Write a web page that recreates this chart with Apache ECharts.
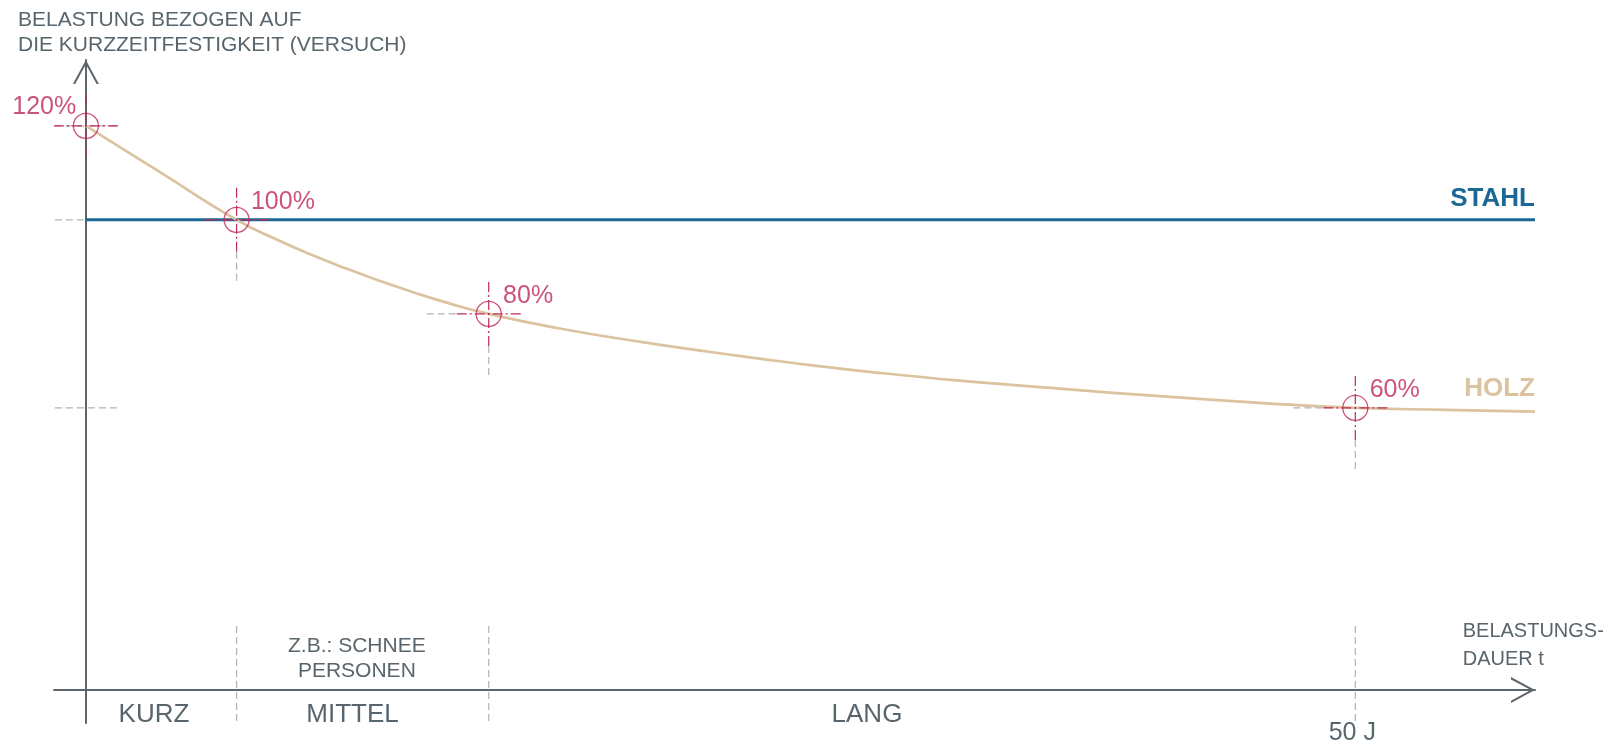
<!DOCTYPE html>
<html lang="de">
<head>
<meta charset="utf-8">
<title>Belastungsdauer – Holz und Stahl</title>
<script src="https://cdn.jsdelivr.net/npm/echarts@6/dist/echarts.min.js"></script>
<style>
  html, body { margin: 0; padding: 0; background: #ffffff; }
  #chart { width: 1613px; height: 742px; }
</style>
</head>
<body>
<div id="chart"></div>
<script>
// Relative Belastungsdauer (0 = Achsenursprung, 100 = Pfeilspitze)
const holzZeit = [0, 5.2, 10.4, 13.4, 15.7, 18.0, 20.3, 22.6, 24.9, 27.8, 32.7, 38.4, 43.1, 46.5, 50.0, 53.4, 60.3, 67.2, 74.1, 81.0, 87.6, 93.8, 100];
// Belastung bezogen auf die Kurzzeitfestigkeit in %
const holzLast = [120, 110, 100, 95.5, 92.4, 89.6, 87.0, 84.6, 82.4, 80, 76.9, 74.0, 71.9, 70.5, 69.1, 67.9, 65.8, 64.1, 62.5, 61.1, 60, 59.6, 59.2];
const stahlZeit = [0, 100];
const stahlLast = [100, 100];

// markierte Punkte der Holzkurve
const markenZeit = [0, 10.4, 27.8, 87.6];
const markenLast = [120, 100, 80, 60];

// Hilfsstriche an der Lastachse und Bereichsgrenzen an der Zeitachse
const achsenMarken = [120, 100, 60];
const bereichsGrenzen = [10.4, 27.8, 87.6];
const bereiche = ['KURZ', 'MITTEL', 'LANG'];
const bereichsMitte = [4.7, 18.4, 53.9];
const beispiel = { zeit: 18.7, text: 'Z.B.: SCHNEE\nPERSONEN' };
const zeitMarke = { zeit: 87.6, text: '50 J' };

const achsenTitel = 'BELASTUNG BEZOGEN AUF\nDIE KURZZEITFESTIGKEIT (VERSUCH)';
const zeitTitel = 'BELASTUNGS-\nDAUER t';

const FONT = '"Liberation Sans", Arial, Helvetica, sans-serif';
const GRAU_TEXT = '#59656d';
const ACHSE = '#5b666e';
const BLAU = '#1c6894';
const HOLZ = '#dcc3a0';
const PINK = '#bf2856';
const STRICH = '#b3b3b3';

// offene Pfeilspitze (Winkel) für beide Achsen
const pfeil = 'path://M13,0 L26,24 L23.7,24 L13,4.2 L2.3,24 L0,24 Z';

const chart = echarts.init(document.getElementById('chart'), null, { renderer: 'canvas' });

function achse(min, max) {
  return {
    type: 'value', min: min, max: max,
    axisLine: {
      show: true, onZero: true,
      lineStyle: { color: ACHSE, width: 2 },
      symbol: ['none', pfeil], symbolSize: [26, 24], symbolOffset: [0, -12]
    },
    axisTick: { show: false },
    axisLabel: { show: false },
    splitLine: { show: false }
  };
}

const pinkStrich = { stroke: PINK, lineWidth: 1.2, lineDash: [10, 3, 2, 3], fill: null };
const grauStrich = { stroke: STRICH, lineWidth: 1.2, lineDash: [7, 4], fill: null };

chart.setOption({
  animation: false,
  backgroundColor: '#ffffff',
  grid: { left: 54, right: 78, top: 60, bottom: 19, containLabel: false, outerBoundsMode: 'none' },
  xAxis: achse(-2.2, 100),
  yAxis: achse(-7, 134),
  series: [
    {
      // Hilfsstriche an der Lastachse
      type: 'custom', z: 1, silent: true,
      data: achsenMarken.map(v => [0, v]),
      renderItem: (params, api) => {
        const p = api.coord([api.value(0), api.value(1)]);
        return { type: 'line', shape: { x1: p[0] - 31, y1: p[1], x2: p[0] + 33, y2: p[1] }, style: grauStrich };
      }
    },
    {
      // Bereichsgrenzen an der Zeitachse
      type: 'custom', z: 1, silent: true,
      data: bereichsGrenzen.map(t => [t, 0]),
      renderItem: (params, api) => {
        const p = api.coord([api.value(0), api.value(1)]);
        return { type: 'line', shape: { x1: p[0], y1: p[1] - 64, x2: p[0], y2: p[1] + 33 }, style: grauStrich };
      }
    },
    {
      name: 'STAHL', type: 'line', z: 2, silent: true,
      data: stahlZeit.map((t, i) => [t, stahlLast[i]]),
      showSymbol: false,
      lineStyle: { color: BLAU, width: 3 }
    },
    {
      name: 'HOLZ', type: 'line', z: 3, silent: true,
      data: holzZeit.map((t, i) => [t, holzLast[i]]),
      showSymbol: false, smooth: 0.5,
      lineStyle: { color: HOLZ, width: 2.7 }
    },
    {
      // Fadenkreuze an den markierten Punkten
      type: 'custom', z: 4, silent: true,
      data: markenZeit.map((t, i) => [t, markenLast[i]]),
      renderItem: (params, api) => {
        const p = api.coord([api.value(0), api.value(1)]);
        const cx = p[0], cy = p[1];
        const i = params.dataIndex;
        const teile = [
          { type: 'line', shape: { x1: cx, y1: cy - 32, x2: cx, y2: cy + 32 }, style: pinkStrich },
          { type: 'line', shape: { x1: cx - 32, y1: cy, x2: cx + 32, y2: cy }, style: pinkStrich }
        ];
        if (i > 0) teile.push({ type: 'line', shape: { x1: cx, y1: cy + 32, x2: cx, y2: cy + 62 }, style: grauStrich });
        if (i > 1) teile.push({ type: 'line', shape: { x1: cx - 62, y1: cy, x2: cx - 32, y2: cy }, style: grauStrich });
        return { type: 'group', children: teile };
      }
    },
    {
      // Kreise mit Prozentangabe
      type: 'scatter', z: 5, silent: true,
      symbol: 'circle', symbolSize: 25,
      itemStyle: { color: 'rgba(0,0,0,0)', borderColor: PINK, borderWidth: 1.3 },
      data: markenZeit.map((t, i) => ({
        value: [t, markenLast[i]],
        label: i === 0
          ? { position: [3.5, -5.5], align: 'right' }
          : { position: [27.5, -4.5], align: 'left' }
      })),
      label: {
        show: true, verticalAlign: 'middle',
        formatter: p => p.value[1] + '%',
        color: PINK, fontSize: 25, fontFamily: FONT
      }
    }
  ]
});

// Beschriftungen, an den Achsenwerten ausgerichtet
const px = (t, v) => chart.convertToPixel({ gridIndex: 0 }, [t, v]);
const texte = [];

texte.push({ type: 'text', silent: true, style: {
  x: 18, y: 7.5, text: achsenTitel, fill: GRAU_TEXT, font: '21px ' + FONT,
  lineHeight: 25, align: 'left', verticalAlign: 'top' } });

texte.push({ type: 'text', silent: true, style: {
  x: 1462.7, y: 617, text: zeitTitel, fill: GRAU_TEXT, font: '20px ' + FONT,
  lineHeight: 28, align: 'left', verticalAlign: 'top' } });

bereiche.forEach((name, i) => {
  const p = px(bereichsMitte[i], 0);
  texte.push({ type: 'text', silent: true, style: {
    x: p[0], y: p[1] + 25, text: name, fill: GRAU_TEXT, font: '26px ' + FONT,
    align: 'center', verticalAlign: 'middle' } });
});

{
  const p = px(beispiel.zeit, 0);
  texte.push({ type: 'text', silent: true, style: {
    x: p[0], y: p[1] - 56, text: beispiel.text, fill: GRAU_TEXT, font: '21px ' + FONT,
    lineHeight: 25, align: 'center', verticalAlign: 'top' } });
}
{
  const p = px(zeitMarke.zeit, 0);
  texte.push({ type: 'text', silent: true, style: {
    x: p[0] - 3, y: p[1] + 43, text: zeitMarke.text, fill: GRAU_TEXT, font: '25px ' + FONT,
    align: 'center', verticalAlign: 'middle' } });
}
{
  const n = stahlZeit.length - 1;
  const p = px(stahlZeit[n], stahlLast[n]);
  texte.push({ type: 'text', silent: true, style: {
    x: p[0], y: p[1] - 21, text: 'STAHL', fill: BLAU, font: 'bold 26px ' + FONT,
    align: 'right', verticalAlign: 'middle' } });
}
{
  const n = holzZeit.length - 1;
  const p = px(holzZeit[n], holzLast[n]);
  texte.push({ type: 'text', silent: true, style: {
    x: p[0], y: p[1] - 23, text: 'HOLZ', fill: HOLZ, font: 'bold 26px ' + FONT,
    align: 'right', verticalAlign: 'middle' } });
}

chart.setOption({ graphic: texte });
</script>
</body>
</html>
